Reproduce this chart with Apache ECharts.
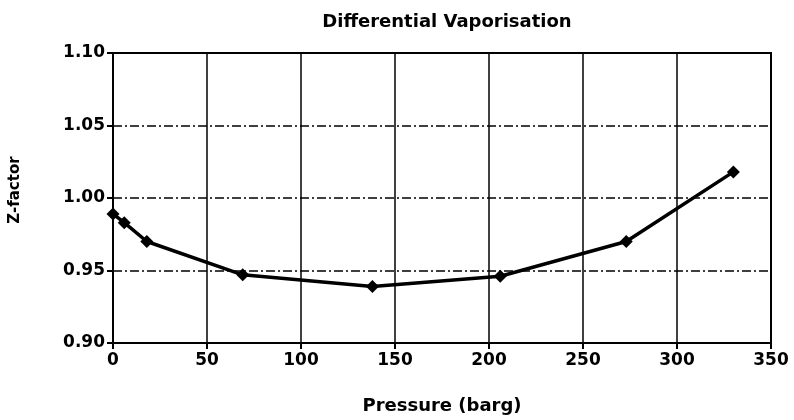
<!DOCTYPE html>
<html>
<head>
<meta charset="utf-8">
<script src="https://cdn.jsdelivr.net/npm/echarts@6/dist/echarts.min.js"></script>
<style>
  html, body { margin: 0; padding: 0; background: #fff; }
  #chart { width: 794px; height: 420px; }
</style>
</head>
<body>
<div id="chart"></div>
<script>
var pressure = [0, 6, 18, 69, 138, 206, 273, 330];
var zFactor = [0.989, 0.983, 0.970, 0.947, 0.939, 0.946, 0.970, 1.018];
var xTicks = [0, 50, 100, 150, 200, 250, 300, 350];
var yTicks = [0.90, 0.95, 1.00, 1.05, 1.10];

var chart = echarts.init(document.getElementById("chart"));
var font = "'DejaVu Sans', sans-serif";

var points = pressure.map(function (p, i) {
  return [p, zFactor[i]];
});

var option = {
  animation: false,
  backgroundColor: "#fff",
  title: {
    text: "Differential Vaporisation",
    left: 442,
    textAlign: "center",
    top: 8,
    textStyle: { fontFamily: font, fontSize: 18, fontWeight: "bold", color: "#000" }
  },
  grid: {
    left: 113,
    right: 23,
    top: 53,
    bottom: 76,
    show: true,
    borderColor: "#000",
    borderWidth: 2,
    backgroundColor: "transparent"
  },
  xAxis: {
    type: "value",
    min: xTicks[0],
    max: xTicks[xTicks.length - 1],
    interval: 50,
    name: "Pressure (barg)",
    nameLocation: "middle",
    nameGap: 54,
    nameTextStyle: { fontFamily: font, fontSize: 18, fontWeight: "bold", color: "#000" },
    axisLine: { show: true, lineStyle: { color: "#000", width: 2 } },
    axisTick: { show: true, length: 6, lineStyle: { color: "#000", width: 2 } },
    axisLabel: { fontFamily: font, fontSize: 17, fontWeight: "bold", color: "#000", margin: 9 },
    splitLine: { show: true, lineStyle: { color: "#000", width: 1.5, type: "solid" } }
  },
  yAxis: {
    type: "value",
    min: yTicks[0],
    max: yTicks[yTicks.length - 1],
    interval: 0.05,
    name: "Z-factor",
    nameLocation: "middle",
    nameGap: 90,
    nameRotate: 90,
    nameTextStyle: {
      fontFamily: font, fontSize: 15, fontWeight: "bold", color: "#000",
      padding: [0, 0, 0, 16]
    },
    axisLine: { show: true, lineStyle: { color: "#000", width: 2 } },
    axisTick: { show: true, length: 6, lineStyle: { color: "#000", width: 2 } },
    axisLabel: {
      fontFamily: font, fontSize: 17, fontWeight: "bold", color: "#000", margin: 8,
      formatter: function (v) { return v.toFixed(2); }
    },
    splitLine: { show: true, lineStyle: { color: "#000", width: 1.5, type: [9, 3, 2, 3] } }
  },
  series: [
    {
      type: "line",
      data: points,
      symbol: "diamond",
      symbolSize: 13,
      showAllSymbol: true,
      itemStyle: { color: "#000" },
      lineStyle: { color: "#000", width: 3.5 }
    }
  ]
};
chart.setOption(option);
window.addEventListener("resize", function () {
  chart.resize();
});
</script>
</body>
</html>
